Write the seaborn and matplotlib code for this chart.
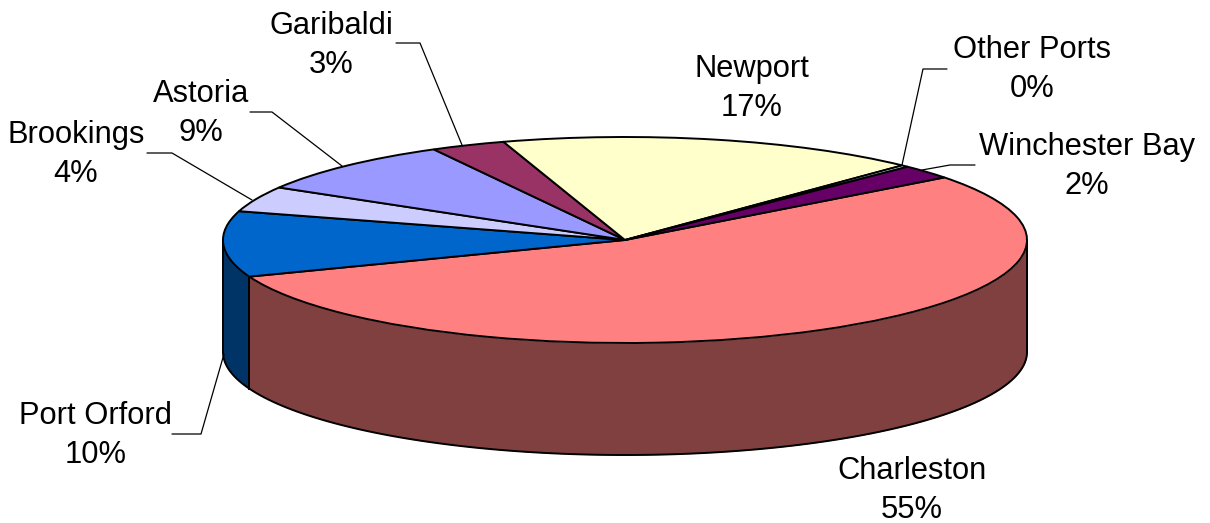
import matplotlib
matplotlib.use("Agg")
import matplotlib.pyplot as plt
import seaborn as sns
import numpy as np

sns.set_theme(style="white")
plt.rcParams['font.family'] = ['Liberation Sans', 'DejaVu Sans']

# Valores em sentido horario, a partir de Charleston
ports = ["Charleston", "Port Orford", "Brookings", "Astoria", "Garibaldi", "Newport", "Other Ports", "Winchester Bay"]
values = [54.6, 10.3, 4, 8.6, 3, 17, 0.3, 2.2]
percent_labels = ["55%", "10%", "4%", "9%", "3%", "17%", "0%", "2%"]
top_colors = ["#FF8080", "#0066CC", "#CCCCFF", "#9999FF", "#993366", "#FFFFCC", "#CCFFFF", "#660066"]
side_colors = ["#804040", "#003366", "#666680", "#4D4D80", "#4D1A33", "#808066", "#668080", "#330033"]

# Geometria do desenho em pixels
W, H = 1210, 523
CX, CY = 625, 240
RX, RY = 402, 103
DEPTH = 112
START = 37.4


def px(x, y):
    # pixels da imagem -> dados do eixo (raio da pizza = 1)
    return (x - CX) / RX, (CY - y) / RY


fig = plt.figure(figsize=(W / 100, H / 100), dpi=100, facecolor="white")
ax = fig.add_axes([0, 0, 1, 1])

# Topo da pizza
ax.pie(values, colors=top_colors, startangle=START, counterclock=False, radius=1, center=(0, 0),
       wedgeprops=dict(edgecolor="black", linewidth=1.4, zorder=3))
ax.set_aspect("auto")
ax.set_xlim(px(0, 0)[0], px(W, 0)[0])
ax.set_ylim(px(0, H)[1], px(0, 0)[1])
ax.axis("off")

# Parede lateral: so a parte da frente (seno negativo)
d = DEPTH / RY
a0 = START
for v, c in zip(values, side_colors):
    a1 = a0 - v * 3.6
    lo, hi = max(a1, -180), min(a0, 0)
    if lo < hi:
        t = np.radians(np.linspace(lo, hi, 120))
        x, y = np.cos(t), np.sin(t)
        ax.fill_between(x, y, y - d, color=c, linewidth=0, zorder=1)
        ax.plot(x, y - d, color="black", lw=1.4, zorder=2)
        ax.plot([x[0], x[0]], [y[0], y[0] - d], color="black", lw=1.4, zorder=2)
        ax.plot([x[-1], x[-1]], [y[-1], y[-1] - d], color="black", lw=1.4, zorder=2)
    a0 = a1

# Rotulos: (x, y do centro da primeira linha, em pixels)
label_pos = [(912, 471), (96, 416), (76, 135), (201, 94), (331, 26), (752, 69), (1032, 50), (1087, 147)]
for name, pct, (lx, ly) in zip(ports, percent_labels, label_pos):
    tx, ty = px(lx, ly)
    ax.text(tx, ty, name, ha="center", va="center", fontsize=22.2, color="black", zorder=5)
    tx, ty = px(lx, ly + 39)
    ax.text(tx, ty, pct, ha="center", va="center", fontsize=22.2, color="black", zorder=5)

# Linhas de chamada
leaders = [
    [(172, 434), (201, 434), (224, 354)],
    [(147, 153), (172, 153), (252, 200)],
    [(250, 112), (272, 112), (342, 166)],
    [(396, 43), (420, 43), (462, 145)],
    [(947, 69), (923, 69), (902, 165)],
    [(975, 165), (950, 165), (922, 170)],
]
for line in leaders:
    pts = np.array([px(*p) for p in line])
    ax.plot(pts[:, 0], pts[:, 1], color="black", lw=0.9, zorder=4)

plt.savefig("out.png", dpi=100)
